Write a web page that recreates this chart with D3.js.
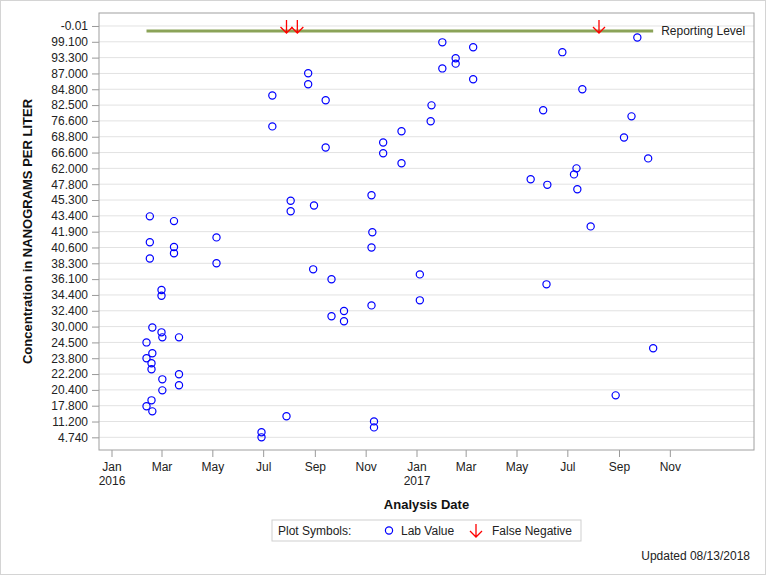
<!DOCTYPE html>
<html>
<head>
<meta charset="utf-8">
<script src="https://cdn.jsdelivr.net/npm/d3@7"></script>
<style>
  body { margin: 0; background: #fff; }
  svg text { font-family: "Liberation Sans", Arial, sans-serif; }
</style>
</head>
<body>
<div id="chart"></div>
<script>
// y axis slots (bottom to top); concentrations are placed piecewise between them
const yTickValues = [4.74, 11.2, 17.8, 20.4, 22.2, 23.8, 24.5, 30.0, 32.4, 34.4, 36.1, 38.3, 40.6,
  41.9, 43.4, 45.3, 47.8, 62.0, 66.6, 68.8, 76.6, 82.5, 84.8, 87.0, 93.3, 99.1];
const yTickLabels = ['4.740', '11.200', '17.800', '20.400', '22.200', '23.800', '24.500', '30.000',
  '32.400', '34.400', '36.100', '38.300', '40.600', '41.900', '43.400', '45.300', '47.800', '62.000',
  '66.600', '68.800', '76.600', '82.500', '84.800', '87.000', '93.300', '99.100', '-0.01'];
const reportingSlot = 25.68;

const labDates = [
  '2016-02-12', '2016-02-12', '2016-02-12',
  '2016-02-16', '2016-02-16', '2016-02-16',
  '2016-02-18', '2016-02-18', '2016-02-18',
  '2016-02-19', '2016-02-19', '2016-02-19',
  '2016-03-01', '2016-03-01', '2016-03-01',
  '2016-03-02', '2016-03-02', '2016-03-02',
  '2016-03-16', '2016-03-16', '2016-03-16',
  '2016-03-22', '2016-03-22', '2016-03-22',
  '2016-05-06', '2016-05-06',
  '2016-06-29', '2016-06-29',
  '2016-07-12', '2016-07-12',
  '2016-07-29',
  '2016-08-03', '2016-08-03',
  '2016-08-24', '2016-08-24',
  '2016-08-30', '2016-08-31',
  '2016-09-14', '2016-09-14',
  '2016-09-21', '2016-09-21',
  '2016-10-06', '2016-10-06',
  '2016-11-08', '2016-11-08', '2016-11-08', '2016-11-09',
  '2016-11-11', '2016-11-11',
  '2016-11-22', '2016-11-22',
  '2016-12-14', '2016-12-14',
  '2017-01-05', '2017-01-05',
  '2017-01-18', '2017-01-19',
  '2017-02-01', '2017-02-01',
  '2017-02-17', '2017-02-17',
  '2017-03-10', '2017-03-10',
  '2017-05-18', '2017-06-02', '2017-06-06', '2017-06-07', '2017-06-25',
  '2017-07-09', '2017-07-12', '2017-07-13', '2017-07-19', '2017-07-29',
  '2017-08-28', '2017-09-07', '2017-09-16', '2017-09-23', '2017-10-06', '2017-10-12'
];
const labValues = [
  24.5, 23.8, 17.54,
  43.35, 41.03, 39.0,
  23.29, 22.68, 18.68,
  29.7, 24.02, 15.44,
  34.93, 34.3, 28.0,
  26.26, 21.6, 20.32,
  42.9, 40.64, 39.75,
  26.26, 22.17, 20.92,
  41.43, 38.3,
  6.8, 4.74,
  83.9, 73.9,
  13.38,
  45.22, 43.95,
  87.06, 85.5,
  37.46, 44.65,
  83.2, 67.3,
  36.08, 31.56,
  32.36, 30.8,
  46.05, 40.6, 33.08, 41.85,
  11.25, 8.8,
  68.0, 66.4,
  71.5, 63.5,
  36.76, 33.72,
  76.4, 82.4,
  98.9, 89.0,
  93.05, 90.9,
  97.1, 86.2,
  52.2, 80.6, 35.54, 47.7, 95.3,
  56.6, 62.0, 47.0, 84.8, 42.4,
  19.5, 68.7, 78.3, 100.7, 64.9, 24.24
];
const falseNegDates = ['2016-07-29', '2016-08-11', '2017-08-08'];

const width = 768, height = 576;
const margin = {top: 13, right: 14, bottom: 126, left: 99};
const parseDate = d3.timeParse('%Y-%m-%d');
const fmtMonth = d3.timeFormat('%b');

const labData = labDates.map((d, i) => ({day: parseDate(d), value: labValues[i]}));
const fnData = falseNegDates.map(d => ({day: parseDate(d)}));

const svg = d3.select('#chart').append('svg')
  .attr('width', width)
  .attr('height', height);

// outer border
svg.append('rect')
  .attr('x', 0.5).attr('y', 0.5)
  .attr('width', width - 3).attr('height', height - 2)
  .attr('fill', 'none').attr('stroke', '#d4d4d4');

const plotW = width - margin.left - margin.right;
const plotH = height - margin.top - margin.bottom;
const g = svg.append('g').attr('transform', `translate(${margin.left},${margin.top})`);

const x = d3.scaleTime()
  .domain([parseDate('2015-12-17'), parseDate('2018-02-10')])
  .range([0, plotW]);

// concentration -> slot index (piecewise), slot -> pixel
const slot = d3.scaleLinear().domain(yTickValues).range(d3.range(yTickValues.length));
const y = d3.scaleLinear().domain([-0.8, 26.82]).range([plotH, 0]);
const ySlots = d3.range(yTickLabels.length);

// grid
g.append('g').selectAll('line')
  .data(ySlots)
  .join('line')
    .attr('x1', 0).attr('x2', plotW)
    .attr('y1', d => y(d)).attr('y2', d => y(d))
    .attr('stroke', '#e2e2e2');

// y axis
const yAxis = g.append('g')
  .call(d3.axisLeft(y).tickValues(ySlots).tickFormat(i => yTickLabels[i]).tickSizeOuter(0).tickSize(7).tickPadding(4));
yAxis.select('.domain').remove();
yAxis.selectAll('line').attr('stroke', '#999');
yAxis.selectAll('text').attr('font-size', 12).attr('fill', '#222').attr('font-family', '"Liberation Sans", Arial, sans-serif');

// x axis
const xTicks = d3.timeMonth.range(parseDate('2016-01-01'), parseDate('2017-11-02'), 2);
const xAxis = g.append('g')
  .attr('transform', `translate(0,${plotH})`)
  .call(d3.axisBottom(x).tickValues(xTicks).tickFormat('').tickSizeOuter(0).tickSize(7));
xAxis.select('.domain').remove();
xAxis.selectAll('line').attr('stroke', '#999');
xAxis.selectAll('.tick').each(function(d) {
  const t = d3.select(this).append('text')
    .attr('y', 21)
    .attr('text-anchor', 'middle')
    .attr('font-size', 12)
    .attr('fill', '#222');
  t.append('tspan').attr('x', 0).text(fmtMonth(d));
  if (d.getMonth() === 0) {
    t.append('tspan').attr('x', 0).attr('dy', 14).text(d.getFullYear());
  }
});

// frame
g.append('rect')
  .attr('width', plotW).attr('height', plotH)
  .attr('fill', 'none').attr('stroke', '#a0a0a0');

// reporting level line
const dayExtent = d3.extent(labData, d => d.day);
g.append('line')
  .attr('x1', x(dayExtent[0])).attr('x2', x(dayExtent[1]))
  .attr('y1', y(reportingSlot)).attr('y2', y(reportingSlot))
  .attr('stroke', '#8ba358').attr('stroke-width', 3);
g.append('text')
  .attr('x', x(dayExtent[1]) + 8).attr('y', y(reportingSlot))
  .attr('dy', '0.35em')
  .attr('font-size', 12).attr('fill', '#222')
  .text('Reporting Level');

// false negative arrows
const arrowPath = 'M0,-6V7M-6,1L0,7L6,1';
g.append('g').selectAll('path')
  .data(fnData)
  .join('path')
    .attr('transform', d => `translate(${x(d.day)},${y(26)})`)
    .attr('d', arrowPath)
    .attr('fill', 'none').attr('stroke', '#ff0000').attr('stroke-width', 1.3);

// lab values
g.append('g').selectAll('circle')
  .data(labData)
  .join('circle')
    .attr('cx', d => x(d.day))
    .attr('cy', d => y(slot(d.value)))
    .attr('r', 3.6)
    .attr('fill', 'none')
    .attr('stroke', '#0000ff')
    .attr('stroke-width', 1.2);

// axis titles
svg.append('text')
  .attr('transform', `translate(32,${margin.top + plotH / 2}) rotate(-90)`)
  .attr('text-anchor', 'middle')
  .attr('font-size', 13).attr('font-weight', 'bold').attr('fill', '#111')
  .text('Concentration in NANOGRAMS PER LITER');
svg.append('text')
  .attr('x', margin.left + plotW / 2).attr('y', 509)
  .attr('text-anchor', 'middle')
  .attr('font-size', 13).attr('font-weight', 'bold').attr('fill', '#111')
  .text('Analysis Date');

// legend
const lg = svg.append('g').attr('transform', 'translate(272,520)');
lg.append('rect').attr('width', 309).attr('height', 21)
  .attr('fill', '#fff').attr('stroke', '#cfcfcf');
lg.append('text').attr('x', 6).attr('y', 15).attr('font-size', 12).attr('fill', '#222').text('Plot Symbols:');
lg.append('circle').attr('cx', 117).attr('cy', 10.5).attr('r', 3.6)
  .attr('fill', 'none').attr('stroke', '#0000ff').attr('stroke-width', 1.2);
lg.append('text').attr('x', 129).attr('y', 15).attr('font-size', 12).attr('fill', '#222').text('Lab Value');
lg.append('path').attr('transform', 'translate(204,10)').attr('d', arrowPath)
  .attr('fill', 'none').attr('stroke', '#ff0000').attr('stroke-width', 1.3);
lg.append('text').attr('x', 220).attr('y', 15).attr('font-size', 12).attr('fill', '#222').text('False Negative');

svg.append('text')
  .attr('x', 750).attr('y', 560)
  .attr('text-anchor', 'end')
  .attr('font-size', 12).attr('fill', '#222')
  .text('Updated 08/13/2018');
</script>
</body>
</html>
